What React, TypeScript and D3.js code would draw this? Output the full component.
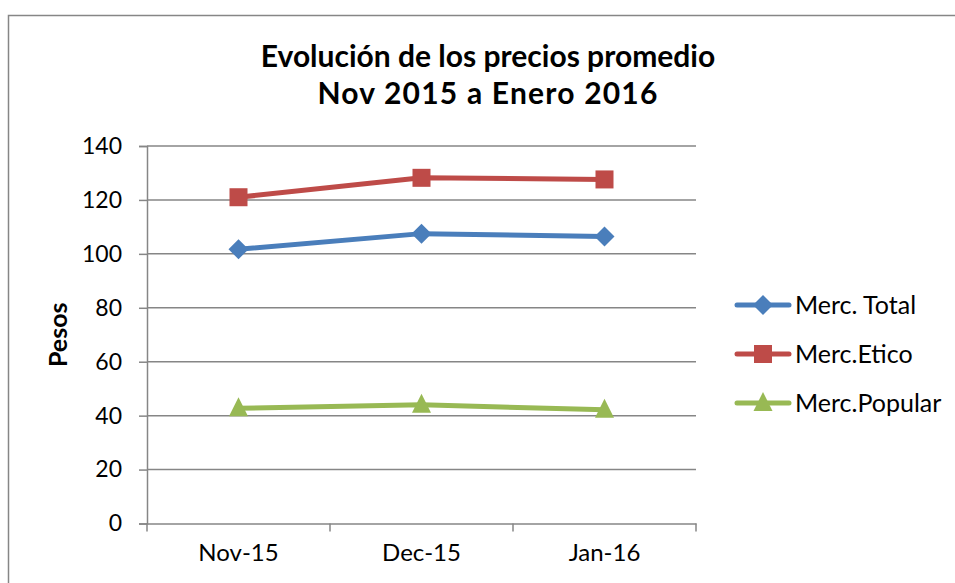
import React, { useEffect, useRef } from 'react';
import * as d3 from 'd3';

const categories = ['Nov-15', 'Dec-15', 'Jan-16'];
const mercTotal = [101.7, 107.5, 106.4];
const mercEtico = [121.0, 128.2, 127.6];
const mercPopular = [42.7, 44.0, 42.2];
const yTicks = [0, 20, 40, 60, 80, 100, 120, 140];

const seriesList = [
  { name: 'Merc. Total', values: mercTotal, color: '#4A7EBB', marker: 'diamond' },
  { name: 'Merc.Etico', values: mercEtico, color: '#BE4B48', marker: 'square' },
  { name: 'Merc.Popular', values: mercPopular, color: '#98B954', marker: 'triangle' },
];

const FONT = 'Lato, "Liberation Sans", sans-serif';

const drawMarker = (g, type, cx, cy, color) => {
  if (type === 'square') {
    g.append('rect')
      .attr('x', cx - 9).attr('y', cy - 9)
      .attr('width', 18).attr('height', 18)
      .attr('fill', color);
  } else if (type === 'diamond') {
    g.append('path')
      .attr('d', `M${cx},${cy - 10}L${cx + 10},${cy}L${cx},${cy + 10}L${cx - 10},${cy}Z`)
      .attr('fill', color);
  } else {
    g.append('path')
      .attr('d', `M${cx},${cy - 11}L${cx + 9.5},${cy + 8}L${cx - 9.5},${cy + 8}Z`)
      .attr('fill', color);
  }
};

const App = () => {
  const ref = useRef(null);

  useEffect(() => {
    const svg = d3.select(ref.current);
    svg.selectAll('*').remove();

    const left = 147, right = 696, top = 146, bottom = 523.5;

    const x = d3.scaleBand().domain(categories).range([left, right]);
    const y = d3.scaleLinear().domain([0, 140]).range([bottom, top]);
    const cx = (c) => x(c) + x.bandwidth() / 2;

    // outer frame
    svg.append('rect')
      .attr('x', 8.5).attr('y', 15.5)
      .attr('width', 1000).attr('height', 1000)
      .attr('fill', 'white')
      .attr('stroke', '#868686').attr('stroke-width', 1.5);

    // title
    const title = svg.append('text')
      .attr('text-anchor', 'middle')
      .attr('font-family', FONT)
      .attr('font-weight', 'bold')
      .attr('font-size', 30)
      .attr('fill', '#000');
    title.append('tspan').attr('x', 488).attr('y', 67).text('Evolución de los precios promedio');
    title.append('tspan').attr('x', 488).attr('y', 104)
      .attr('letter-spacing', 1.2)
      .text('Nov 2015 a Enero 2016');

    // gridlines
    svg.append('g')
      .selectAll('line')
      .data(yTicks.filter(d => d > 0))
      .join('line')
      .attr('x1', left).attr('x2', right)
      .attr('y1', d => y(d)).attr('y2', d => y(d))
      .attr('stroke', '#868686').attr('stroke-width', 1.5);

    // y axis
    const yAxis = svg.append('g')
      .attr('transform', `translate(${left},0)`)
      .call(d3.axisLeft(y).tickValues(yTicks).tickSize(8).tickPadding(17));
    yAxis.select('.domain').attr('stroke', '#868686').attr('stroke-width', 1.5);
    yAxis.selectAll('line').attr('stroke', '#868686').attr('stroke-width', 1.5);
    yAxis.selectAll('text')
      .attr('font-family', FONT).attr('font-size', 23).attr('fill', '#000');

    // x axis
    const xAxis = svg.append('g')
      .attr('transform', `translate(0,${bottom})`)
      .call(d3.axisBottom(x).tickSize(0).tickPadding(20));
    xAxis.select('.domain').attr('stroke', '#868686').attr('stroke-width', 1.5);
    xAxis.selectAll('text')
      .attr('font-family', FONT).attr('font-size', 24).attr('fill', '#000');
    xAxis.append('g')
      .selectAll('line')
      .data([left, ...categories.map(c => x(c) + x.bandwidth())])
      .join('line')
      .attr('x1', d => d).attr('x2', d => d)
      .attr('y1', 0).attr('y2', 8)
      .attr('stroke', '#868686').attr('stroke-width', 1.5);

    // y label
    svg.append('text')
      .attr('transform', `translate(67,${(top + bottom) / 2}) rotate(-90)`)
      .attr('text-anchor', 'middle')
      .attr('font-family', FONT).attr('font-weight', 'bold')
      .attr('font-size', 25).attr('fill', '#000')
      .text('Pesos');

    // series
    const line = d3.line()
      .x((d, i) => cx(categories[i]))
      .y(d => y(d));

    seriesList.forEach(s => {
      const g = svg.append('g');
      g.append('path')
        .datum(s.values)
        .attr('fill', 'none')
        .attr('stroke', s.color)
        .attr('stroke-width', 5)
        .attr('stroke-linejoin', 'round')
        .attr('d', line);
      s.values.forEach((v, i) => drawMarker(g, s.marker, cx(categories[i]), y(v), s.color));
    });

    // legend
    const legend = svg.append('g');
    seriesList.forEach((s, i) => {
      const ly = 305 + i * 49;
      legend.append('line')
        .attr('x1', 737).attr('x2', 789)
        .attr('y1', ly).attr('y2', ly)
        .attr('stroke', s.color).attr('stroke-width', 5)
        .attr('stroke-linecap', 'round');
      drawMarker(legend, s.marker, 763, ly, s.color);
      legend.append('text')
        .attr('x', 795).attr('y', ly + 9)
        .attr('font-family', FONT).attr('font-size', 25).attr('fill', '#000')
        .text(s.name);
    });
  }, []);

  return (
    <svg
      ref={ref}
      width={955}
      height={583}
      style={{ position: 'absolute', left: 0, top: 0, display: 'block' }}
    />
  );
};

export default App;
